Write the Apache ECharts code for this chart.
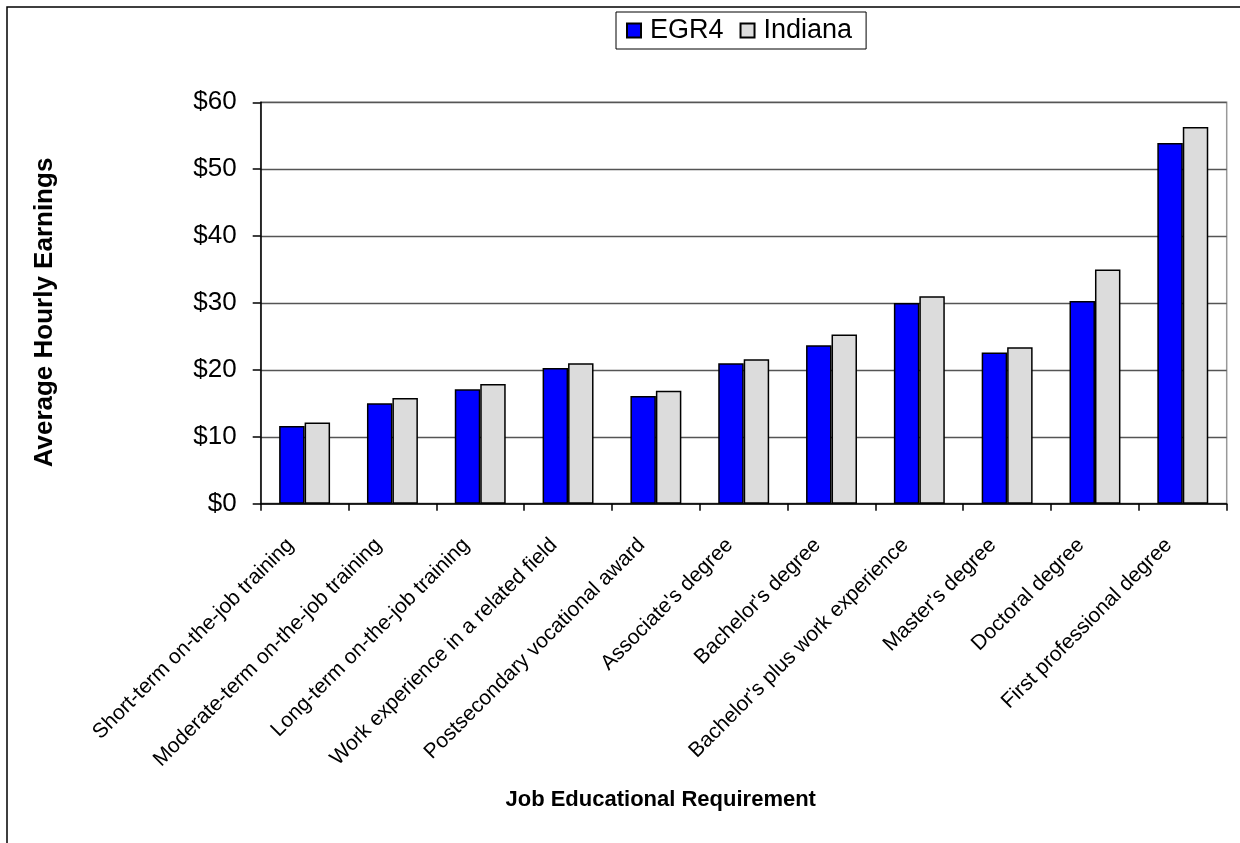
<!DOCTYPE html>
<html>
<head>
<meta charset="utf-8">
<script src="https://cdn.jsdelivr.net/npm/echarts@6/dist/echarts.min.js"></script>
<style>
html,body{margin:0;padding:0;background:#fff;}
#chart{width:1240px;height:843px;}
</style>
</head>
<body>
<div id="chart"></div>
<script>
const categories = [
  "Short-term on-the-job training",
  "Moderate-term on-the-job training",
  "Long-term on-the-job training",
  "Work experience in a related field",
  "Postsecondary vocational award",
  "Associate's degree",
  "Bachelor's degree",
  "Bachelor's plus work experience",
  "Master's degree",
  "Doctoral degree",
  "First professional degree"
];
const seriesNames = ["EGR4", "Indiana"];
const egr4 = [11.6, 15.0, 17.1, 20.3, 16.1, 21.0, 23.7, 30.0, 22.6, 30.3, 53.9];
const indiana = [12.15, 15.8, 17.9, 21.0, 16.9, 21.6, 25.3, 31.0, 23.4, 35.0, 56.3];
const yMin = 0, yMax = 60, yStep = 10;
const yTickPrefix = "$";
const xAxisTitle = "Job Educational Requirement";
const yAxisTitle = "Average Hourly Earnings";

const FONT = "'Liberation Sans', Arial, Helvetica, sans-serif";
const chart = echarts.init(document.getElementById('chart'), null, {renderer: 'canvas'});

chart.setOption({
  animation: false,
  backgroundColor: '#ffffff',
  graphic: [{
    type: 'polyline',
    shape: {points: [[7, 843], [7, 7], [1240, 7]]},
    style: {stroke: '#000', lineWidth: 1.5, fill: null},
    silent: true
  }],
  legend: {
    data: seriesNames,
    left: 616,
    top: 12,
    orient: 'horizontal',
    padding: [5, 14, 5, 10],
    itemGap: 16,
    itemWidth: 14,
    itemHeight: 14,
    borderColor: '#000',
    borderWidth: 1,
    icon: 'rect',
    textStyle: {fontFamily: FONT, fontSize: 27, color: '#000', padding: [0, 0, 0, 4]}
  },
  grid: {
    left: 260.7,
    right: 13.3,
    top: 102.3,
    bottom: 339.3,
    show: true,
    borderColor: '#999',
    borderWidth: 1.5,
    containLabel: false
  },
  xAxis: {
    type: 'category',
    data: categories,
    name: xAxisTitle,
    nameLocation: 'middle',
    nameGap: 285,
    nameTextStyle: {fontFamily: FONT, fontSize: 22, fontWeight: 'bold', color: '#000', padding: [0, 166, 0, 0]},
    axisLine: {lineStyle: {color: '#000', width: 1.5}},
    axisTick: {show: true, alignWithLabel: false, length: 7, lineStyle: {color: '#000', width: 1.5}},
    axisLabel: {
      interval: 0,
      rotate: 45,
      margin: 24,
      fontFamily: FONT,
      fontSize: 21,
      color: '#000',
      padding: [0, 20, 0, 0]
    },
    splitLine: {show: false}
  },
  yAxis: {
    type: 'value',
    min: yMin,
    max: yMax,
    interval: yStep,
    name: yAxisTitle,
    nameLocation: 'middle',
    nameGap: 203,
    nameTextStyle: {fontFamily: FONT, fontSize: 26, fontWeight: 'bold', color: '#000', padding: [0, 19, 0, 0]},
    axisLine: {show: true, lineStyle: {color: '#000', width: 1.5}},
    axisTick: {show: true, length: 8, lineStyle: {color: '#000', width: 1.5}},
    axisLabel: {
      margin: 24,
      fontFamily: FONT,
      fontSize: 26,
      color: '#000',
      formatter: v => yTickPrefix + v
    },
    splitLine: {show: true, lineStyle: {color: '#555', width: 1.3}}
  },
  series: [
    {
      name: seriesNames[0],
      type: 'bar',
      data: egr4,
      barGap: '0%',
      barCategoryGap: '42%',
      itemStyle: {color: '#0000ff', borderColor: '#000', borderWidth: 1.5}
    },
    {
      name: seriesNames[1],
      type: 'bar',
      data: indiana,
      barGap: '0%',
      barCategoryGap: '42%',
      itemStyle: {color: '#dcdcdc', borderColor: '#000', borderWidth: 1.5}
    }
  ]
});
</script>
</body>
</html>
